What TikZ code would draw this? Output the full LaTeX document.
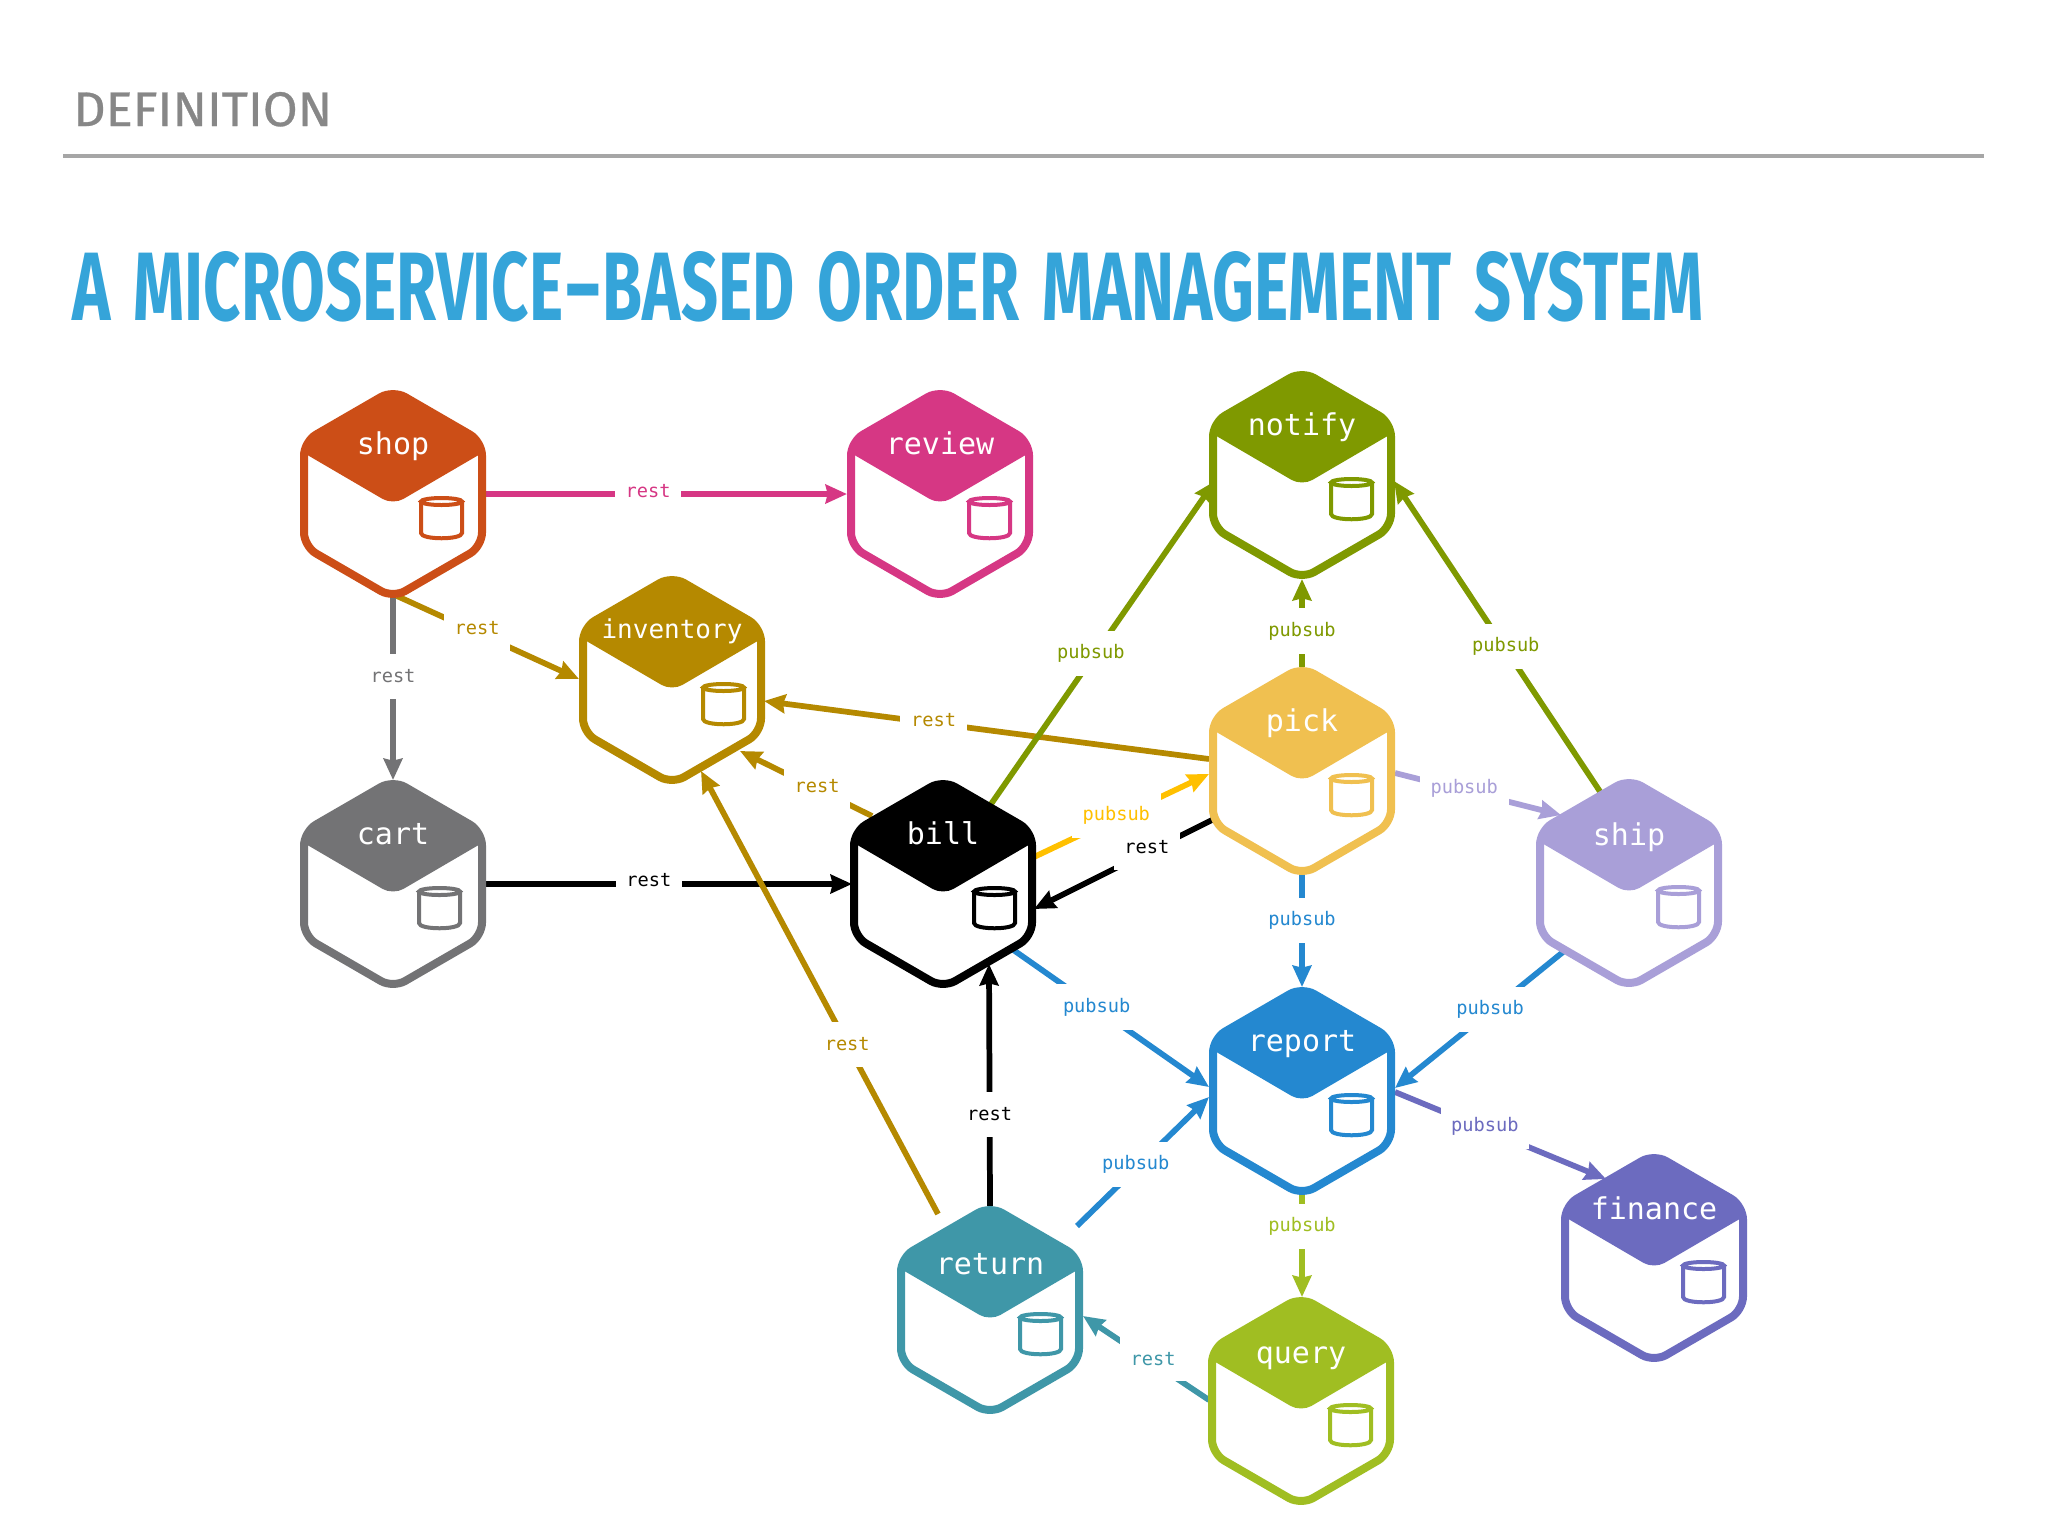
\documentclass[tikz,border=0pt]{standalone}
\usepackage{fontspec}
\usepackage{graphicx}
\usetikzlibrary{calc,arrows.meta}
\newfontfamily\headfont{Fira Sans}
\newfontfamily\sectfont[FakeBold=0.6]{Fira Sans}
\setmonofont{DejaVu Sans Mono}
\newlength\pxu \setlength\pxu{0.75pt}
\definecolor{ctitle}{HTML}{35A4D9}
\definecolor{cshop}{HTML}{CC4E17}
\definecolor{creview}{HTML}{D63784}
\definecolor{cnotify}{HTML}{7F9900}
\definecolor{cinv}{HTML}{B58900}
\definecolor{cpick}{HTML}{F0C050}
\definecolor{cyellow}{HTML}{FFC000}
\definecolor{ccart}{HTML}{737375}
\definecolor{cship}{HTML}{A99FD8}
\definecolor{creport}{HTML}{2488D0}
\definecolor{cfin}{HTML}{6C6BBF}
\definecolor{creturn}{HTML}{3F97A8}
\definecolor{cquery}{HTML}{A0BE22}
\tikzset{
  hub/.style={inner sep=0pt,minimum width=186\pxu,minimum height=206\pxu},
  svclabel/.style={anchor=base,text=white,inner sep=0pt,font=\ttfamily\fontsize{22.5pt}{24pt}\selectfont},
  conn/.style={line width=4.3pt,-{Stealth[length=16pt,width=14pt,inset=1.5pt]}},
  tag/.style={fill=white,inner xsep=8pt,inner ysep=0pt,minimum height=34pt,font=\ttfamily\fontsize{14pt}{16pt}\selectfont},
}
\newcommand{\hexpath}{(0,-104) -- (89,-52.5) -- (89,52.5) -- (0,104) -- (-89,52.5) -- (-89,-52.5) -- cycle}
% \service[cylinder x offset]{name}{x}{y}{colour}{text}
\newcommand{\service}[6][0]{%
  \node[hub] (#2) at (#3,#4) {};
  \begin{scope}[shift={(#3,#4)}]
    \fill[white,rounded corners=10.5pt] \hexpath;
    \begin{scope}
      \clip[rounded corners=10.5pt] \hexpath;
      \fill[#5] (-95,-115) -- (95,-115) -- (95,-44.5) [rounded corners=9pt] -- (0,11) [sharp corners] -- (-95,-44.5) -- cycle;
    \end{scope}
    \draw[#5,line width=6pt,rounded corners=10.5pt] \hexpath;
    \begin{scope}[shift={(#1,0)}]
      \draw[#5,line width=3pt] (49.5,7.5) ellipse [x radius=20.5,y radius=3.5];
      \draw[#5,line width=3pt] (29,7.5) -- (29,39) .. controls (29,46) and (70,46) .. (70,39) -- (70,7.5);
    \end{scope}
    \node[svclabel] (#2-name) at (0,-40) {#6};
  \end{scope}
}
% \link{color}{from}{offset}{to}{offset}{label options}{label}
\newcommand{\link}[7]{%
  \draw[conn,#1] ($(#2)+(#3)$) -- node[tag,text=#1,#6] {#7} ($(#4)+(#5)$);
}
\begin{document}
\begin{tikzpicture}[x=0.75pt,y=-0.75pt]
\useasboundingbox (0,0) rectangle (2048,1536);
\fill[white] (0,0) rectangle (2048,1536);
% header
\node[anchor=base west,inner sep=0pt,text=black!47] (section) at (73,126)
  {\resizebox{259\pxu}{34\pxu}{\sectfont DEFINITION}};
\draw[line width=3pt,color=black!35] (63,156) -- (1984,156);
\node[anchor=base west,inner sep=0pt,text=ctitle] (title) at (72,320)
  {\resizebox{1631\pxu}{69\pxu}{\headfont\bfseries\spaceskip=0.36em A MICROSERVICE\scalebox{1.5}[1]{-}BASED ORDER MANAGEMENT SYSTEM}};
% anchors only (the hexagons are drawn over the connectors below)
\foreach \n/\x/\y in {shop/393/494,review/940/494,notify/1302/475,inventory/672/680,pick/1302/771,bill/943/884,cart/393/884,ship/1629/883,report/1302/1091,finance/1654/1258,return/990/1310,query/1301/1401}
  {\coordinate (\n) at (\x,\y);}
% connectors
\link{creview}{shop}{93,0}{review}{-93,0}{pos=.449,yshift=2pt}{rest}
\link{cinv}{shop}{4,102}{inventory}{-93,-1}{pos=.44,yshift=3pt}{rest}
\link{ccart}{shop}{0,104}{cart}{0,-104}{pos=.426,yshift=-0.5pt}{rest}
\link{black}{cart}{93,0}{bill}{-91,0}{pos=.445,yshift=3pt}{rest}
\link{cinv}{bill}{-71,-68}{inventory}{68,71}{pos=.416,yshift=2pt}{rest}
\link{cinv}{return}{-52,-96}{inventory}{29,91}{pos=.383}{rest}
\link{cinv}{pick}{-93,-12}{inventory}{92,21}{pos=.619,yshift=2pt}{rest}
\link{cnotify}{bill}{46,-77}{notify}{-87,6}{pos=.48,xshift=-5pt,yshift=-2pt}{pubsub}
\link{cnotify}{pick}{0,-104}{notify}{0,104}{pos=.426,yshift=-1pt}{pubsub}
\link{cnotify}{ship}{-28,-90}{notify}{92,6}{pos=.473,xshift=2pt,yshift=-1pt}{pubsub}
\link{black}{pick}{-86,47}{bill}{91,25}{pos=.38,yshift=4pt}{rest}
\link{cyellow}{bill}{91,-27}{pick}{-93,3}{pos=.47,yshift=2pt}{pubsub}
\link{cship}{pick}{93,2}{ship}{-68,-68}{pos=.417,yshift=2pt}{pubsub}
\link{creport}{pick}{0,104}{report}{0,-104}{pos=.395,yshift=-1pt}{pubsub}
\link{creport}{bill}{69,65}{report}{-93,-4}{pos=.43,yshift=1pt}{pubsub}
\link{creport}{return}{87,-84}{report}{-93,6}{pos=.445,yshift=3pt}{pubsub}
\link{creport}{ship}{-66,69}{report}{93,-3}{pos=.434,yshift=1pt}{pubsub}
\link{cfin}{report}{93,1}{finance}{-48,-79}{pos=.426,yshift=2pt}{pubsub}
\link{cquery}{report}{0,104}{query}{1,-104}{pos=.28,yshift=-2pt}{pubsub}
\link{black}{return}{0,-104}{bill}{46,80}{pos=.378,yshift=-0pt}{rest}
\link{creturn}{query}{-92,-1}{return}{93,6}{pos=.443,yshift=3pt}{rest}
% services
\service[-1]{shop}{393}{494}{cshop}{shop}
\service{review}{940}{494}{creview}{review}
\service{notify}{1302}{475}{cnotify}{notify}
\service[2]{inventory}{672}{680}{cinv}{\raisebox{1pt}{\fontsize{19.5pt}{22pt}\selectfont inventory}}
\service{pick}{1302}{771}{cpick}{pick}
\service[2]{bill}{943}{884}{black}{bill}
\service[-3]{cart}{393}{884}{ccart}{cart}
\service{ship}{1629}{883}{cship}{\raisebox{-2pt}{ship}}
\service{report}{1302}{1091}{creport}{report}
\service{finance}{1654}{1258}{cfin}{\raisebox{-1pt}{finance}}
\service[1]{return}{990}{1310}{creturn}{\raisebox{-3pt}{return}}
\service{query}{1301}{1401}{cquery}{\raisebox{-2pt}{query}}
\end{tikzpicture}
\end{document}
